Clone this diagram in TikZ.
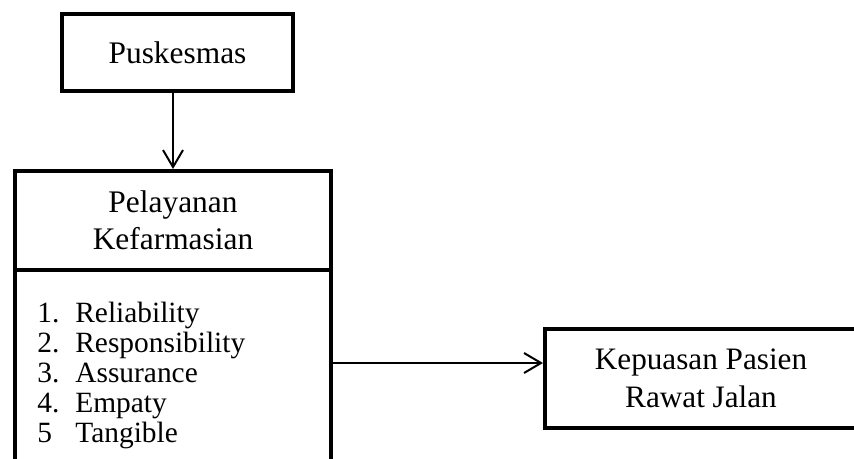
\documentclass[tikz,border=0pt]{standalone}
\usepackage{fontspec}
\setmainfont{Liberation Serif}
\usepackage{tikz}
\usetikzlibrary{positioning,arrows.meta}

\begin{document}
\begin{tikzpicture}[
				x=0.5pt,y=-0.5pt,
				box/.style={
					rectangle,
					draw=black,
					line width=2pt,
					inner sep=0pt,
					align=center,
					font=\fontsize{15.7}{18.5}\selectfont
				},
				arrow/.style={
					-{Straight Barb[length=8.5pt,width=10pt]},
					line width=1pt
				}
			]
			\clip (0,0) rectangle (854,459);
			% Nodes
			\node[box,minimum width=115.5pt,minimum height=38.5pt] (puskesmas) at (177.5,52.5) {Puskesmas};
			
			\node[box,minimum width=158pt,minimum height=49.5pt] (pelayanan) at (173,220.5) {Pelayanan\\ Kefarmasian};
			\node[box,minimum width=158pt,minimum height=140pt,anchor=north,yshift=2pt] (dimensi) at (pelayanan.south) {};
			\node[inner sep=0pt,anchor=north west,align=left,font=\fontsize{14.7}{15}\selectfont] (daftar) at (37,302) {\makebox[19pt][l]{1.}Reliability\\ \makebox[19pt][l]{2.}Responsibility\\ \makebox[19pt][l]{3.}Assurance\\ \makebox[19pt][l]{4.}Empaty\\ \makebox[19pt][l]{5}Tangible};
			
			\node[box,minimum width=156pt,minimum height=49.5pt,font=\fontsize{15.6}{19}\selectfont] (kepuasan) at (701,378.5) {Kepuasan Pasien\\ Rawat Jalan};
			\coordinate (masuk) at ([yshift=7.75pt]kepuasan.west);
			
			\draw[arrow] (pelayanan.north |- puskesmas.south) -- (pelayanan.north);
			\draw[arrow] (masuk -| dimensi.east) -- (masuk);
		\end{tikzpicture}
\end{document}
